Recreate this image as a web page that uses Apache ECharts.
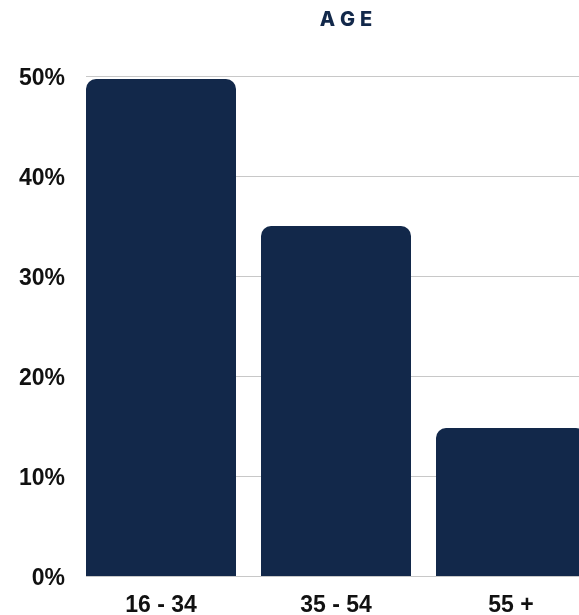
<!DOCTYPE html>
<html>
<head>
<meta charset="utf-8">
<script src="https://cdn.jsdelivr.net/npm/echarts@6/dist/echarts.min.js"></script>
<style>html,body{margin:0;padding:0;background:#fff;}#c{width:579px;height:615px;}</style>
</head>
<body>
<div id="c"></div>
<script>
const categories = ['16 - 34', '35 - 54', '55 +'];
const shares = [49.7, 35, 14.8];
const yTicks = [0, 10, 20, 30, 40, 50];
const titleText = 'AGE';

const navy = '#12284a';
const chart = echarts.init(document.getElementById('c'), null, {renderer: 'canvas'});
chart.setOption({
  animation: false,
  backgroundColor: '#ffffff',
  graphic: [{
    type: 'text', x: 346, y: 20, z: 10,
    style: {
      text: titleText.split('').map(function (c) { return '{l|' + c + '}'; }).join(''),
      align: 'center', verticalAlign: 'middle',
      rich: {
        l: {fontFamily: 'Inter', fontWeight: 800, fontSize: 20, fill: navy, color: navy, padding: [0, 2.5]}
      }
    }
  }],
  grid: [
    {left: 73.5, width: 525, top: 76, bottom: 39, outerBoundsMode: 'none', containLabel: false},
    {left: 86, right: 0, top: 76, bottom: 39, outerBoundsMode: 'none', containLabel: false}
  ],
  xAxis: [
    {
      type: 'category', gridIndex: 0, data: categories,
      axisLine: {show: false}, axisTick: {show: false}, splitLine: {show: false},
      axisLabel: {margin: 18, fontFamily: 'Liberation Sans', fontWeight: 'bold', fontSize: 23, color: '#111'}
    },
    {type: 'value', gridIndex: 1, show: false, min: 0, max: 1}
  ],
  yAxis: [
    {type: 'value', gridIndex: 0, min: yTicks[0], max: yTicks[yTicks.length - 1], interval: 10, show: false},
    {
      type: 'value', gridIndex: 1, min: yTicks[0], max: yTicks[yTicks.length - 1], interval: 10,
      axisLine: {show: false}, axisTick: {show: false},
      splitLine: {show: true, lineStyle: {color: '#c8c8c8', width: 1}},
      axisLabel: {margin: 21, verticalAlign: 'top', lineHeight: 6, formatter: '{value}%', fontFamily: 'Liberation Sans', fontWeight: 'bold', fontSize: 23, color: '#111'}
    }
  ],
  series: [{
    type: 'bar', xAxisIndex: 0, yAxisIndex: 0,
    data: shares, barWidth: 150,
    itemStyle: {color: navy, borderRadius: [10, 10, 0, 0]}
  }]
});
</script>
</body>
</html>
